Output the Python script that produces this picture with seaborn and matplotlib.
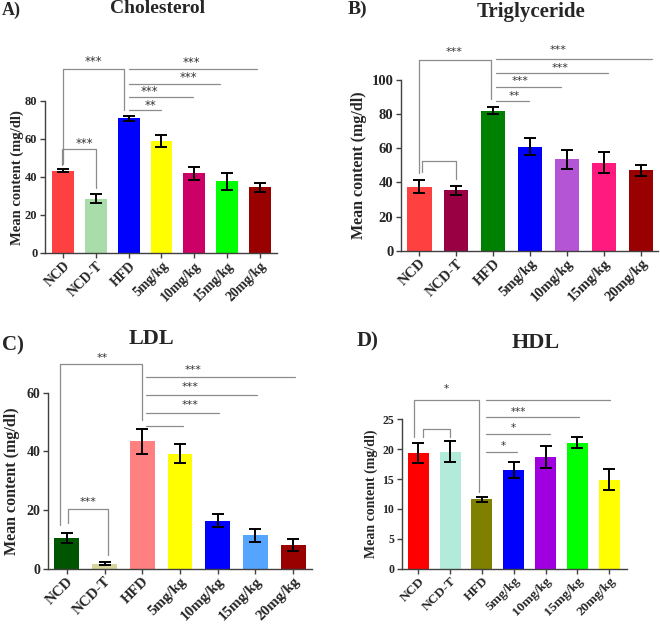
import numpy as np
import pandas as pd
import matplotlib
matplotlib.use("Agg")
import matplotlib.pyplot as plt
import seaborn as sns

sns.set_style("ticks")
plt.rcParams['font.family'] = ['Liberation Serif', 'DejaVu Serif']
plt.rcParams['font.weight'] = 'bold'

groups = ["NCD", "NCD-T", "HFD", "5mg/kg", "10mg/kg", "15mg/kg", "20mg/kg"]

# mean +/- error
chol_mean = [43.3, 28.5, 70.7, 58.9, 41.8, 37.7, 34.5]
chol_err = [0.8, 2.5, 1.4, 3.0, 3.4, 4.4, 2.3]
tg_mean = [37.6, 35.5, 82.1, 61.0, 53.6, 51.5, 47.0]
tg_err = [3.8, 2.7, 2.1, 4.8, 5.6, 6.1, 3.0]
ldl_mean = [10.4, 1.7, 43.4, 39.2, 16.3, 11.4, 8.2]
ldl_err = [1.7, 0.6, 4.25, 3.2, 2.2, 2.2, 2.1]
hdl_mean = [19.4, 19.6, 11.6, 16.5, 18.7, 21.1, 14.9]
hdl_err = [1.7, 1.75, 0.4, 1.4, 1.8, 0.95, 1.75]

chol_colors = ["#ff4040", "#a8dca8", "#0000ff", "#ffff00", "#cc0066", "#00ff00", "#990000"]
tg_colors = ["#ff4040", "#990044", "#008000", "#0000ff", "#b455d5", "#ff1a80", "#990000"]
ldl_colors = ["#005500", "#d6d69c", "#ff8080", "#ffff00", "#0000ff", "#55a5ff", "#990000"]
hdl_colors = ["#ff0000", "#b3ebdb", "#808000", "#0000ff", "#a000e0", "#00ff00", "#ffff00"]

# significance marks: brackets (x1, x2, y, leg1 bottom, leg2 bottom) and labels (text, x, y)
chol_brackets = [(0, 1.87, 96.6, 46.6, 75.0), (-0.03, 1.0, 54.5, 46.0, 34.0),
                 (2.0, 5.9, 96.6, None, None), (2.0, 4.78, 88.7, None, None),
                 (2.0, 3.95, 82.1, None, None), (2.0, 3.0, 75.1, None, None)]
chol_marks = [("***", 0.92, 100.8), ("***", 0.64, 57.3), ("***", 3.92, 100.1),
              ("***", 3.83, 92.1), ("***", 2.64, 84.7), ("**", 2.68, 77.2)]
tg_brackets = [(0, 1.93, 111.7, 45.3, 88.9), (0.08, 1.0, 52.6, 46.4, 42.1),
               (2.07, 6.3, 112.3, None, None), (2.07, 5.1, 103.9, None, None),
               (2.07, 3.84, 95.7, None, None), (2.07, 2.97, 87.7, None, None)]
tg_marks = [("***", 0.93, 116.6), ("***", 3.76, 117.6), ("***", 3.81, 107.2),
            ("***", 2.72, 99.4), ("**", 2.56, 90.8)]
ldl_brackets = [(-0.17, 1.98, 69.7, 14.9, 50.7), (0.02, 1.09, 20.2, 15.5, 4.7),
                (2.1, 6.05, 65.2, None, None), (2.1, 5.05, 59.3, None, None),
                (2.1, 4.03, 53.0, None, None), (2.1, 3.09, 48.7, None, None)]
ldl_marks = [("**", 0.93, 72.0), ("***", 0.56, 22.6), ("***", 3.34, 67.7),
             ("***", 3.28, 61.8), ("***", 3.28, 55.8)]
hdl_brackets = [(-0.13, 1.92, 28.3, 22.1, 12.9), (0.14, 1.0, 23.4, 22.1, 22.1),
                (2.13, 6.02, 28.3, None, None), (2.13, 5.04, 25.4, None, None),
                (2.13, 4.13, 22.6, None, None), (2.13, 3.11, 19.5, None, None)]
hdl_marks = [("*", 0.89, 30.0), ("***", 3.16, 26.3), ("*", 3.0, 23.6), ("*", 2.67, 20.5)]

fig = plt.figure(figsize=(6.6, 6.24), dpi=100)


def draw_panel(rect, xlim, mean, err, colors, ymax, ystep, brackets, marks,
               ytick_fs, xtick_fs, star_fs):
    ax = fig.add_axes(rect)
    df = pd.DataFrame({"group": groups, "value": mean})
    sns.barplot(data=df, x="group", y="value", hue="group", palette=colors,
                legend=False, width=0.66, errorbar=None, ax=ax,
                edgecolor="none", saturation=1)
    ax.errorbar(np.arange(len(groups)), mean, yerr=err, fmt="none",
                ecolor="black", elinewidth=1.4, capsize=4.5, capthick=1.4)
    for x1, x2, y, b1, b2 in brackets:
        xs, ys = [x1, x2], [y, y]
        if b1 is not None:
            xs, ys = [x1, x1, x2, x2], [b1, y, y, b2]
        ax.plot(xs, ys, color="#8c8c8c", lw=0.9, clip_on=False)
    for text, x, y in marks:
        ax.text(x, y, text, ha="center", va="center", fontsize=star_fs,
                family="DejaVu Sans", fontweight="normal", color="#333333")
    ax.set_xlim(*xlim)
    ax.set_ylim(0, ymax)
    ax.set_yticks(np.arange(0, ymax + 0.01, ystep))
    ax.set_xlabel("")
    ax.set_ylabel("")
    ax.set_xticks(range(len(groups)))
    ax.set_xticklabels(groups, rotation=45, ha="right", rotation_mode="anchor",
                       fontsize=xtick_fs, fontweight="bold")
    for lab in ax.get_yticklabels():
        lab.set_fontsize(ytick_fs)
        lab.set_fontweight("bold")
    sns.despine(ax=ax)
    for s in ["left", "bottom"]:
        ax.spines[s].set_color("#404040")
        ax.spines[s].set_linewidth(1.0)
    ax.tick_params(length=3.5, width=1.0, color="#404040", pad=2)
    ax.tick_params(axis="x", pad=1)
    return ax


draw_panel([0.0682, 0.5946, 0.3515, 0.2441], (-0.55, 6.52), chol_mean, chol_err,
           chol_colors, 80, 20, chol_brackets, chol_marks, 9, 9.8, 8.5)
draw_panel([0.6076, 0.5982, 0.3894, 0.2736], (-0.5, 6.47), tg_mean, tg_err,
           tg_colors, 100, 20, tg_brackets, tg_marks, 10.5, 10.5, 8)
draw_panel([0.0727, 0.0886, 0.3995, 0.2820], (-0.5, 6.49), ldl_mean, ldl_err,
           ldl_colors, 60, 20, ldl_brackets, ldl_marks, 10, 10.8, 8)
draw_panel([0.6086, 0.0886, 0.3410, 0.2394], (-0.52, 6.55), hdl_mean, hdl_err,
           hdl_colors, 25, 5, hdl_brackets, hdl_marks, 8.5, 9.5, 7.5)

# titles, panel letters, y labels
fig.text(0.238, 0.9856, "Cholesterol", ha="center", va="center", fontsize=14, fontweight="bold")
fig.text(0.805, 0.980, "Triglyceride", ha="center", va="center", fontsize=15, fontweight="bold")
fig.text(0.230, 0.4567, "LDL", ha="center", va="center", fontsize=16, fontweight="bold")
fig.text(0.811, 0.4508, "HDL", ha="center", va="center", fontsize=16, fontweight="bold")
fig.text(0.003, 0.984, "A)", ha="left", va="center", fontsize=13, fontweight="bold")
fig.text(0.526, 0.9856, "B)", ha="left", va="center", fontsize=14, fontweight="bold")
fig.text(0.003, 0.447, "C)", ha="left", va="center", fontsize=15, fontweight="bold")
fig.text(0.541, 0.4527, "D)", ha="left", va="center", fontsize=15, fontweight="bold")

ylab = "Mean content (mg/dl)"
fig.text(0.026, 0.716, ylab, rotation=90, ha="center", va="center", fontsize=10.5, fontweight="bold")
fig.text(0.544, 0.735, ylab, rotation=90, ha="center", va="center", fontsize=11.5, fontweight="bold")
fig.text(0.0177, 0.229, ylab, rotation=90, ha="center", va="center", fontsize=11.5, fontweight="bold")
fig.text(0.563, 0.208, ylab, rotation=90, ha="center", va="center", fontsize=10, fontweight="bold")

fig.savefig("out.png", dpi=100)
